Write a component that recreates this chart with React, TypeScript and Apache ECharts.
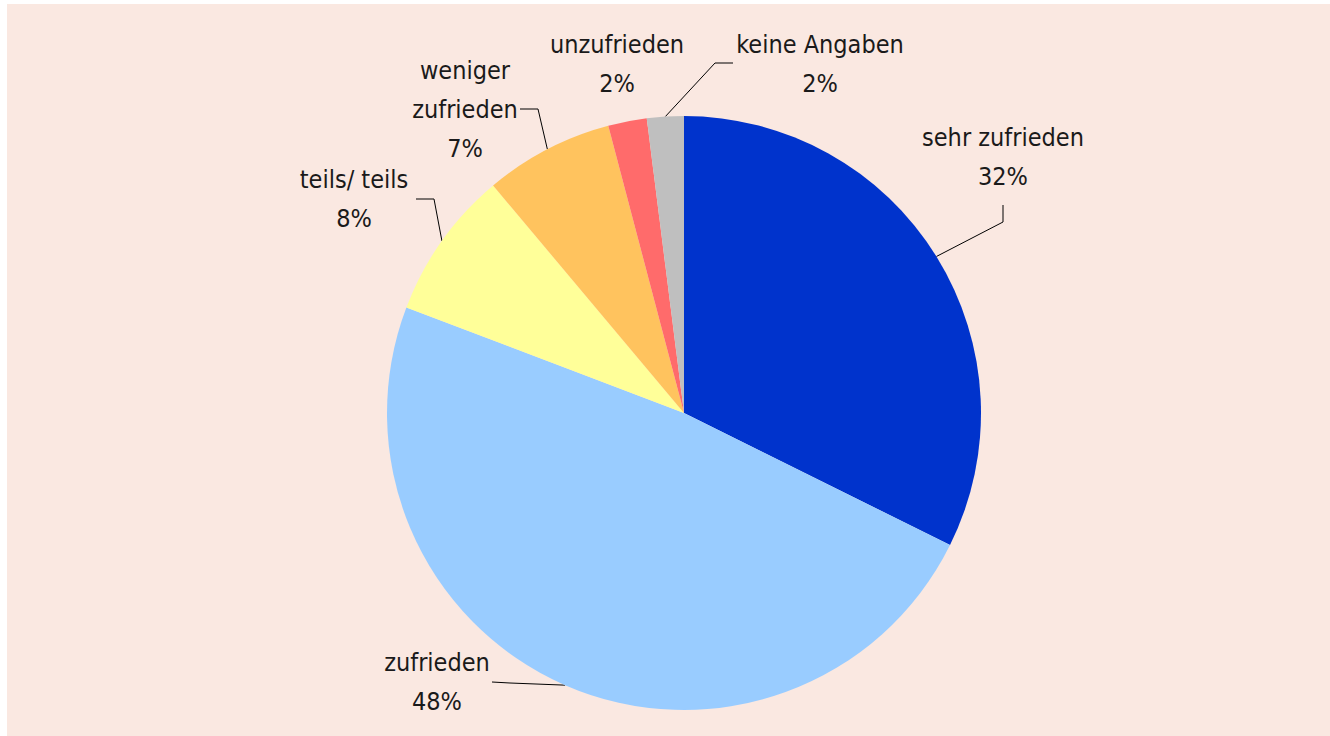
import React, { useEffect, useRef } from "react";
import * as echarts from "echarts";

const categories = ["sehr zufrieden", "zufrieden", "teils/ teils", "weniger\nzufrieden", "unzufrieden", "keine Angaben"];
const values = [32.3, 48.4, 8.1, 7.0, 2.1, 2.0];
const colors = ["#0033CC", "#99CCFF", "#FFFF99", "#FFC35E", "#FF6B6B", "#BFBFBF"];

// label block centres and label-line bend/end points (chart pixels)
const labelPlacement: { x: number; y: number; line: number[][] | null }[] = [
  { x: 1003, y: 157, line: [[1003, 222], [1003, 205]] },
  { x: 437, y: 682, line: [[510, 683], [492, 682]] },
  { x: 354, y: 199, line: [[434, 199], [416, 199]] },
  { x: 465, y: 109, line: [[538, 109], [520, 109]] },
  { x: 617, y: 64, line: null },
  { x: 820, y: 64, line: [[715, 63], [733, 63]] },
];

const FONT = "'DejaVu Sans Condensed', 'Liberation Sans Narrow', 'Liberation Sans', sans-serif";

export default function App() {
  const ref = useRef<HTMLDivElement>(null);
  useEffect(() => {
    if (!ref.current) return;
    const chart = echarts.init(ref.current, null, { renderer: "svg" });
    const data = categories.map((name, i) => ({
      name,
      value: values[i],
      itemStyle: { color: colors[i] },
      labelLine: { show: labelPlacement[i].line !== null },
    }));
    chart.setOption({
      animation: false,
      backgroundColor: "#ffffff",
      graphic: [
        {
          type: "rect",
          z: -10,
          shape: { x: 7, y: 4, width: 1323, height: 732 },
          style: { fill: "#FAE8E1" },
          silent: true,
        },
      ],
      series: [
        {
          type: "pie",
          center: [684, 413],
          radius: 297,
          startAngle: 90,
          clockwise: true,
          avoidLabelOverlap: false,
          silent: true,
          emphasis: { disabled: true },
          itemStyle: { borderWidth: 0 },
          label: {
            show: true,
            position: "outside",
            color: "#1a1a1a",
            fontFamily: FONT,
            fontSize: 25,
            lineHeight: 39,
            formatter: (p: any) => `${p.name}\n${Math.round(p.value)}%`,
          },
          labelLine: {
            show: true,
            length: 20,
            length2: 20,
            lineStyle: { color: "#000000", width: 1 },
          },
          labelLayout: (params: any) => {
            const pl = labelPlacement[params.dataIndex];
            const res: any = { x: pl.x, y: pl.y, align: "center", verticalAlign: "middle" };
            if (pl.line && params.labelLinePoints) {
              res.labelLinePoints = [params.labelLinePoints[0], ...pl.line];
            }
            return res;
          },
          data,
        },
      ],
    });
    return () => chart.dispose();
  }, []);
  return (
    <div
      ref={ref}
      style={{ position: "absolute", left: 0, top: 0, width: 1330, height: 736 }}
    />
  );
}
